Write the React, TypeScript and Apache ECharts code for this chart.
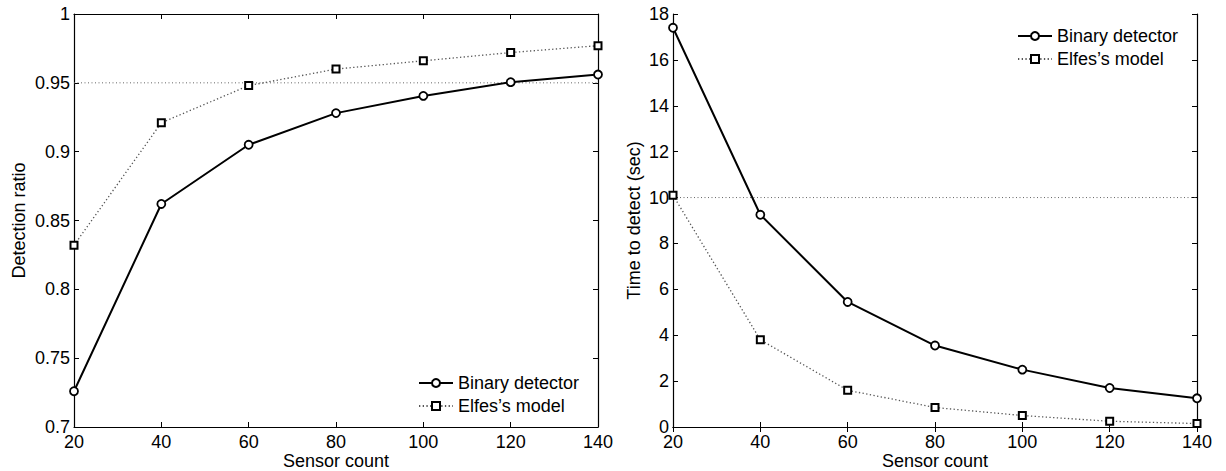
import React, { useEffect, useRef } from "react";
import * as echarts from "echarts";

const sensorCounts = [20, 40, 60, 80, 100, 120, 140];
const binaryRatio = [0.726, 0.862, 0.905, 0.928, 0.9405, 0.9505, 0.956];
const elfesRatio = [0.832, 0.921, 0.948, 0.96, 0.966, 0.972, 0.977];
const binaryTime = [17.4, 9.25, 5.45, 3.55, 2.5, 1.7, 1.25];
const elfesTime = [10.1, 3.8, 1.6, 0.85, 0.5, 0.25, 0.15];
const ratioThreshold = 0.95;
const timeThreshold = 10;

const FONT = "Liberation Sans, Arial, Helvetica, sans-serif";

export default function App() {
  const ref = useRef<HTMLDivElement>(null);
  useEffect(() => {
    if (!ref.current) return;
    const chart = echarts.init(ref.current, null, { renderer: "svg" });
    const pair = (ys: number[]) => sensorCounts.map((x, i) => [x, ys[i]]);
    const thr = (v: number) => [
      [sensorCounts[0], v],
      [sensorCounts[sensorCounts.length - 1], v],
    ];
    const label = { color: "#000", fontFamily: FONT, fontSize: 18 };
    const mkX = (gi: number) => [
      {
        type: "value",
        gridIndex: gi,
        min: 20,
        max: 140,
        interval: 20,
        position: "bottom",
        axisLine: { lineStyle: { color: "#000", width: 1.2 } },
        axisTick: { inside: true, length: 5, lineStyle: { color: "#000" } },
        axisLabel: { ...label, margin: 6 },
        splitLine: { show: false },
        name: "Sensor count",
        nameLocation: "middle",
        nameGap: 25,
        nameMoveOverlap: false,
        nameTextStyle: { ...label, lineHeight: 18 },
      },
      {
        type: "value",
        gridIndex: gi,
        min: 20,
        max: 140,
        interval: 20,
        position: "top",
        axisLine: { lineStyle: { color: "#000", width: 1.2 } },
        axisTick: { inside: true, length: 5, lineStyle: { color: "#000" } },
        axisLabel: { show: false },
        splitLine: { show: false },
      },
    ];
    const mkY = (gi: number, min: number, max: number, interval: number, name: string, gap: number) => [
      {
        type: "value",
        gridIndex: gi,
        min,
        max,
        interval,
        position: "left",
        axisLine: { show: true, lineStyle: { color: "#000", width: 1.2 } },
        axisTick: { show: true, inside: true, length: 5, lineStyle: { color: "#000" } },
        axisLabel: { ...label, margin: 4 },
        splitLine: { show: false },
        name,
        nameLocation: "middle",
        nameGap: gap,
        nameMoveOverlap: false,
        nameTextStyle: { ...label },
      },
      {
        type: "value",
        gridIndex: gi,
        min,
        max,
        interval,
        position: "right",
        axisLine: { show: true, lineStyle: { color: "#000", width: 1.2 } },
        axisTick: { show: true, inside: true, length: 5, lineStyle: { color: "#000" } },
        axisLabel: { show: false },
        splitLine: { show: false },
      },
    ];
    const binStyle = (xi: number, yi: number, data: number[][]) => ({
      type: "line",
      name: "Binary detector",
      xAxisIndex: xi,
      yAxisIndex: yi,
      data,
      symbol: "circle",
      symbolSize: 8,
      showSymbol: true,
      lineStyle: { color: "#000", width: 2 },
      itemStyle: { color: "#fff", borderColor: "#000", borderWidth: 1.8 },
      z: 5,
    });
    const elfStyle = (xi: number, yi: number, data: number[][]) => ({
      type: "line",
      name: "Elfes\u2019s model",
      xAxisIndex: xi,
      yAxisIndex: yi,
      data,
      symbol: "rect",
      symbolSize: 7,
      showSymbol: true,
      lineStyle: { color: "#555", width: 1.3, type: [1.3, 2.4] },
      itemStyle: { color: "#fff", borderColor: "#000", borderWidth: 2 },
      z: 4,
    });
    const thrStyle = (xi: number, yi: number, data: number[][]) => ({
      type: "line",
      name: "threshold",
      xAxisIndex: xi,
      yAxisIndex: yi,
      data,
      symbol: "none",
      lineStyle: { color: "#666", width: 1, type: [1, 2.5] },
      z: 2,
      silent: true,
    });
    const legendBase = {
      orient: "vertical",
      itemWidth: 34,
      itemHeight: 10,
      itemGap: 5,
      textStyle: { ...label },
      padding: 0,
      data: ["Binary detector", "Elfes\u2019s model"],
      selectedMode: false,
    };
    chart.setOption({
      animation: false,
      backgroundColor: "#fff",
      grid: [
        { left: 74, top: 14, width: 524, height: 413, containLabel: false, outerBoundsMode: "none" },
        { left: 673, top: 14, width: 524, height: 413, containLabel: false, outerBoundsMode: "none" },
      ],
      xAxis: [...mkX(0), ...mkX(1)],
      yAxis: [
        ...mkY(0, 0.7, 1, 0.05, "Detection ratio", 46),
        ...mkY(1, 0, 18, 2, "Time to detect (sec)", 30),
      ],
      legend: [
        { ...legendBase, left: 418, top: 374 },
        { ...legendBase, left: 1017, top: 27 },
      ],
      series: [
        thrStyle(0, 0, thr(ratioThreshold)),
        binStyle(0, 0, pair(binaryRatio)),
        elfStyle(0, 0, pair(elfesRatio)),
        thrStyle(2, 2, thr(timeThreshold)),
        binStyle(2, 2, pair(binaryTime)),
        elfStyle(2, 2, pair(elfesTime)),
      ],
    });
    return () => chart.dispose();
  }, []);
  return (
    <div
      ref={ref}
      style={{ position: "fixed", left: 0, top: 0, width: 1226, height: 471 }}
    />
  );
}
